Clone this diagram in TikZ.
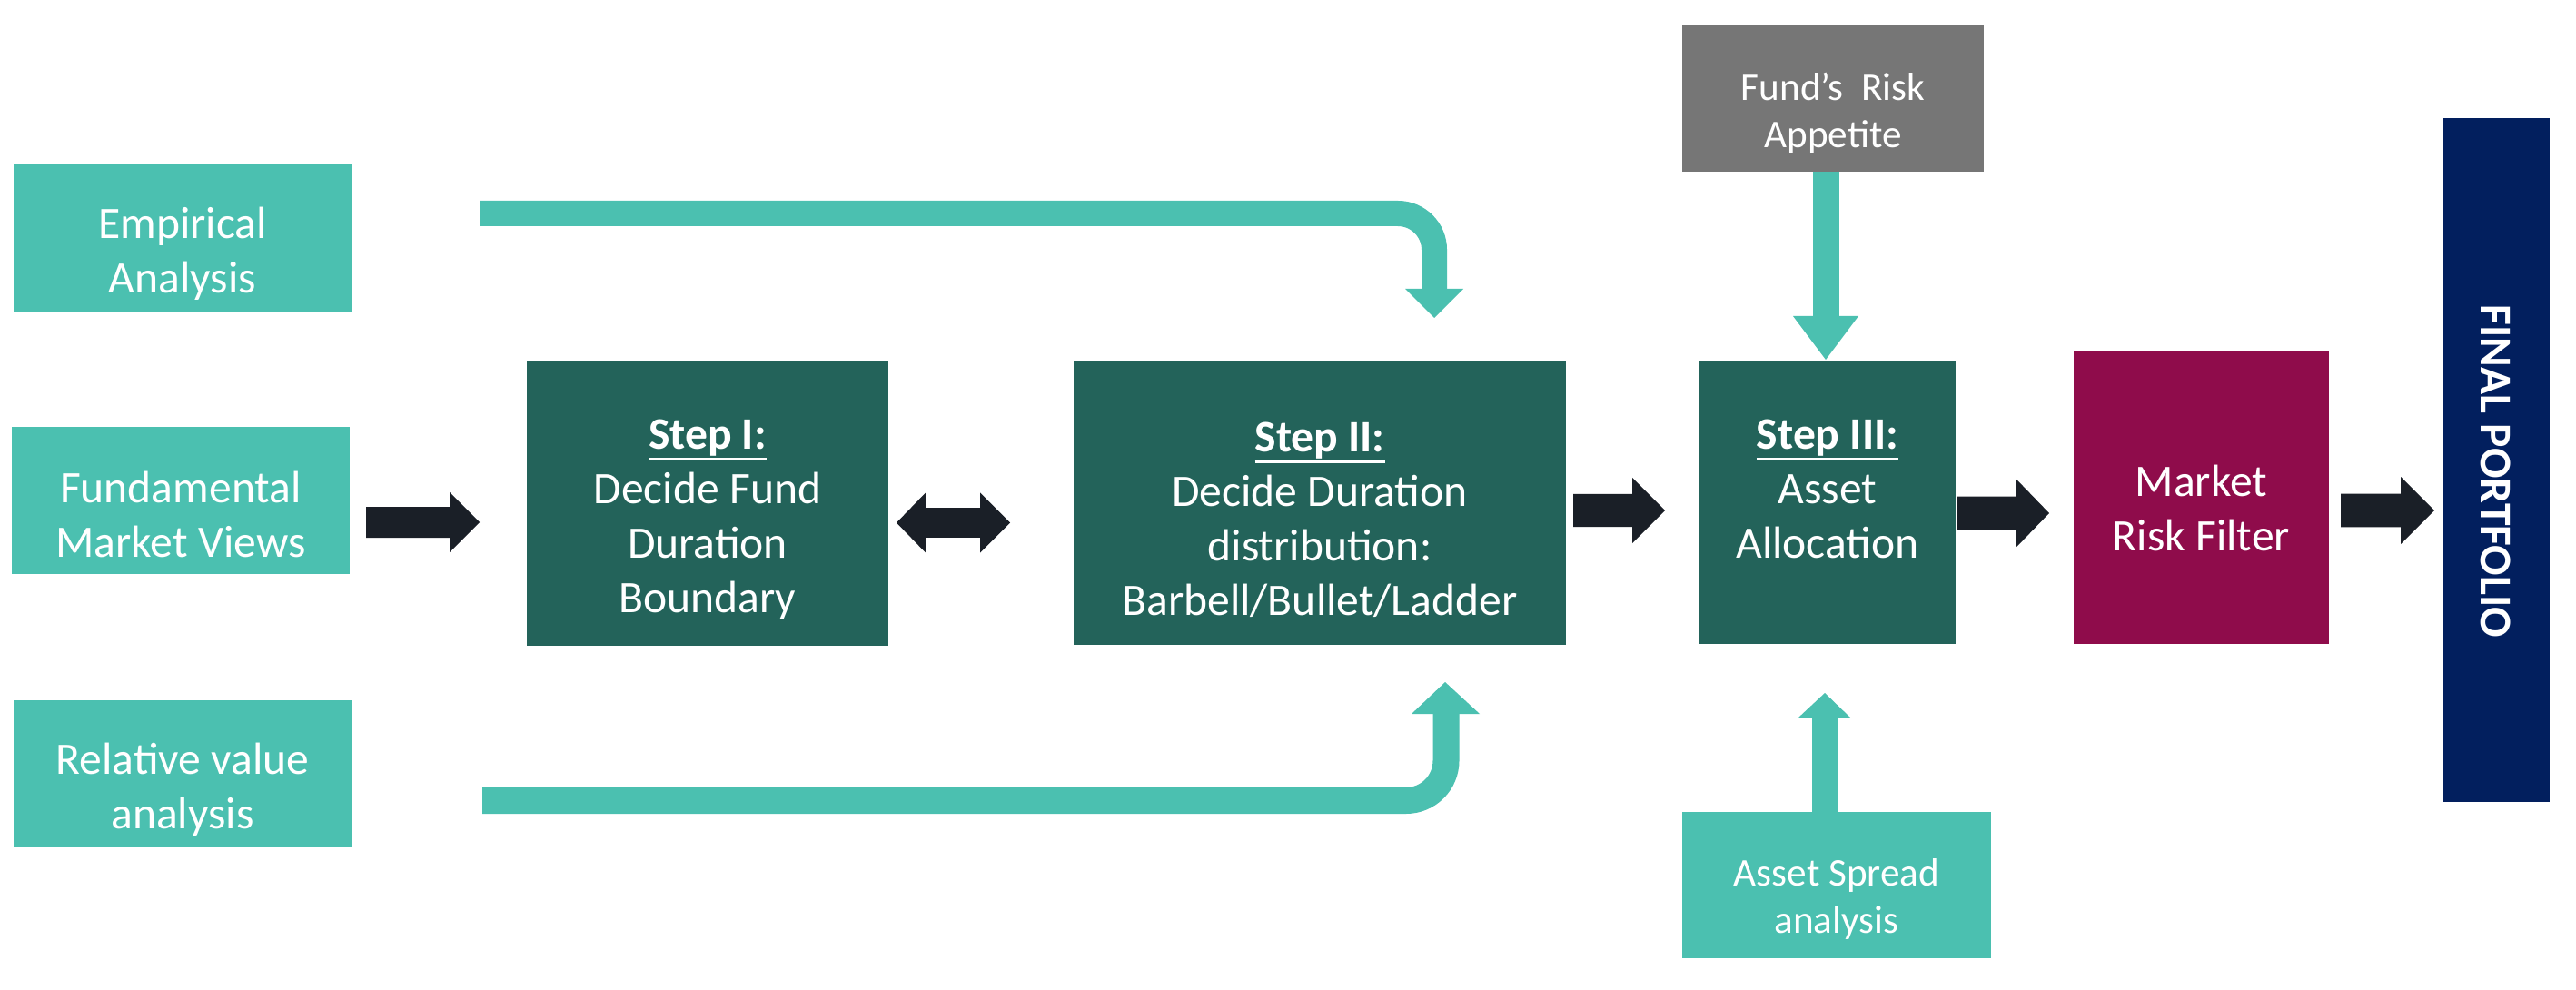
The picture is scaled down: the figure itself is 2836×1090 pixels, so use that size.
\documentclass[tikz,border=0pt]{standalone}
\usepackage{fontspec}
\setmainfont{Carlito}
\usetikzlibrary{calc}
\definecolor{tealL}{RGB}{75,192,176}
\definecolor{tealD}{RGB}{35,99,90}
\definecolor{greyF}{RGB}{118,118,118}
\definecolor{magF}{RGB}{143,12,75}
\definecolor{navyF}{RGB}{2,31,94}
\definecolor{darkA}{RGB}{26,31,39}
\tikzset{
  boxbase/.style={inner sep=0pt, outer sep=0pt, draw=none},
  inbox/.style={boxbase, fill=tealL},
  stepbox/.style={boxbase, fill=tealD},
  greybox/.style={boxbase, fill=greyF},
  magbox/.style={boxbase, fill=magF},
  navybox/.style={boxbase, fill=navyF},
  txt/.style={text=white, align=center, inner sep=0pt, font=\fontsize{12.4}{15}\selectfont},
  smalltxt/.style={text=white, align=center, inner sep=0pt, font=\fontsize{10.8}{13}\selectfont},
  tealarrow/.style={draw=tealL, line cap=butt},
  tealhead/.style={fill=tealL},
}
% thick underline for the step titles
\newcommand\stepul[1]{\setbox0\hbox{#1}\rlap{\rule[-3.2pt]{\wd0}{0.8pt}}\box0}
% block arrow: #1 start coord, #2 end coord (tip), #3 shaft half, #4 head half, #5 head length
\newcommand\myblockar[5]{%
  \fill[darkA] let \p1=(#1),\p2=(#2) in
    (\x1,\y1+#3) -- (\x2-#5,\y1+#3) -- (\x2-#5,\y1+#4) -- (\x2,\y1)
    -- (\x2-#5,\y1-#4) -- (\x2-#5,\y1-#3) -- (\x1,\y1-#3) -- cycle;}
\begin{document}
\begin{tikzpicture}[x=0.25pt,y=-0.25pt]
\fill[white] (0,0) rectangle (2836,1090);
\useasboundingbox (0,0) rectangle (2836,1090);

% boxes
\node[inbox, minimum width=93pt, minimum height=40.75pt] (emp) at (201,262.5) {};
\node[inbox, minimum width=93pt, minimum height=40.5pt] (fmv) at (199,551) {};
\node[inbox, minimum width=93pt, minimum height=40.5pt] (rva) at (201,852) {};
\node[stepbox, minimum width=99.5pt, minimum height=78.5pt] (s1) at (779,554) {};
\node[stepbox, minimum width=135.5pt, minimum height=78pt] (s2) at (1453,554) {};
\node[stepbox, minimum width=70.5pt, minimum height=77.75pt] (s3) at (2012,553.5) {};
\node[greybox, minimum width=83pt, minimum height=40.25pt] (fra) at (2018,108.5) {};
\node[inbox, minimum width=85pt, minimum height=40.25pt] (asa) at (2022,974.5) {};
\node[magbox, minimum width=70.25pt, minimum height=80.75pt] (mrf) at (2423.5,547.5) {};
\node[navybox, minimum width=29.25pt, minimum height=188.25pt] (fin) at (2748.5,506.5) {};

% texts
\node[txt] (empt) at (201,279) {Empirical\\Analysis};
\node[txt] (fmvt) at (199,566) {Fundamental\\Market Views};
\node[txt] (rvat) at (201,869.5) {Relative value\\analysis};
\node[txt] (s1t) at (779,572) {\stepul{\textbf{Step I:}}\\Decide Fund\\Duration\\Boundary};
\node[txt] (s2t) at (1453,572) {\stepul{\textbf{Step II:}}\\Decide Duration\\distribution:\\Barbell/Bullet/Ladder};
\node[txt] (s3t) at (2012,538) {\stepul{\textbf{Step III:}}\\Asset\\Allocation};
\node[smalltxt] (frat) at (2018,125) {Fund’s\ \ Risk\\Appetite};
\node[smalltxt] (asat) at (2022,990) {Asset Spread\\analysis};
\node[txt] (mrft) at (2423.5,559) {Market\\Risk Filter};
\node[txt, rotate=-90, font=\bfseries\fontsize{12.4}{15}\selectfont] (fint) at (2748,519) {FINAL PORTFOLIO};

% dark block arrows
\coordinate (a1s) at (403,575);  \coordinate (a1e) at (528,575);
\coordinate (a3s) at (1732,562); \coordinate (a3e) at (1833,562);
\coordinate (a4s) at (2154,565); \coordinate (a4e) at (2256,565);
\coordinate (a5s) at (2577,562); \coordinate (a5e) at (2680,562);
\myblockar{a1s}{a1e}{4.25pt}{8.25pt}{8.25pt}
\myblockar{a3s}{a3e}{4.5pt}{9pt}{9pt}
\myblockar{a4s}{a4e}{4.6pt}{9.3pt}{9pt}
\myblockar{a5s}{a5e}{4.6pt}{9.2pt}{9.2pt}
% double arrow between step I and step II
\coordinate (dL) at (987,575.5); \coordinate (dR) at (1112,575.5);
\fill[darkA] let \p1=(dL),\p2=(dR) in
  (\x1,\y1) -- (\x1+8pt,\y1+8.25pt) -- (\x1+8pt,\y1+4.1pt) -- (\x2-8.25pt,\y1+4.1pt)
  -- (\x2-8.25pt,\y1+8.25pt) -- (\x2,\y1) -- (\x2-8.25pt,\y1-8.25pt) -- (\x2-8.25pt,\y1-4.1pt)
  -- (\x1+8pt,\y1-4.1pt) -- (\x1+8pt,\y1-8.25pt) -- cycle;

% teal bent arrow (top)
\coordinate (tbs) at (528,235); \coordinate (tbh) at (1579,319); \coordinate (tbt) at (1579,350);
\draw[tealarrow, line width=7pt, rounded corners=10pt] (tbs) -| (tbh);
\fill[tealhead] (1547,318) -- (1611,318) -- (tbt) -- cycle;

% teal bent arrow (bottom)
\coordinate (bbs) at (531,881.5); \coordinate (bbh) at (1592,785); \coordinate (bbt) at (1591,751);
\draw[tealarrow, line width=7.25pt, rounded corners=11pt] (bbs) -| (bbh);
\fill[tealhead] (1554,786) -- (1629,786) -- (bbt) -- cycle;

% fund's risk -> step III
\coordinate (frh) at (2010,349); \coordinate (frtip) at (2010,396);
\draw[tealarrow, line width=7.25pt] (fra.south -| frh) -- (frh);
\fill[tealhead] (1974,348) -- (2046,348) -- (frtip) -- cycle;

% asset spread -> step III
\coordinate (ash) at (2009,789); \coordinate (astip) at (2009,763);
\draw[tealarrow, line width=7pt] (asa.north -| ash) -- (ash);
\fill[tealhead] (1980,790) -- (2037,790) -- (astip) -- cycle;
\end{tikzpicture}
\end{document}
